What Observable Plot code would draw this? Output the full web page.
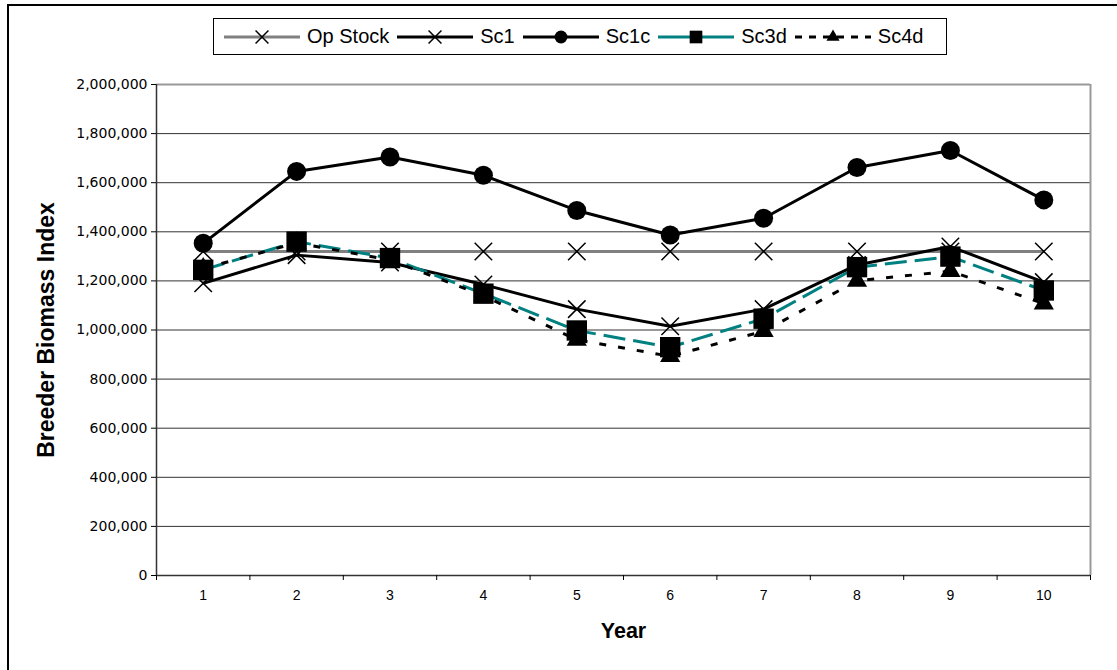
<!DOCTYPE html>
<html>
<head>
<meta charset="utf-8">
<script src="https://cdn.jsdelivr.net/npm/d3@7"></script>
<script src="https://cdn.jsdelivr.net/npm/@observablehq/plot@0.6"></script>
<style>
  html, body { margin: 0; padding: 0; background: #fff; }
  #chart { position: relative; width: 1117px; height: 670px; overflow: hidden;
           font-family: "Liberation Sans", Arial, sans-serif; color: #000; }
  #frame { position: absolute; left: 7px; top: 4px; width: 1300px; height: 900px;
           border: 2px solid #000; pointer-events: none; }
  #legend { margin: 18px 0 5px 213px; width: 734px; height: 37px; box-sizing: border-box;
            border: 1px solid #000; display: flex; align-items: center; padding-left: 10px;
            font-size: 20px; white-space: nowrap; }
  #legend .item { display: flex; align-items: center; }
  #legend .item span { margin: 0 8px 0 7px; }
  #plot svg { display: block; }
  #plot g[aria-label="y-axis tick label"] { font-family: "DejaVu Sans", sans-serif; font-size: 14px; }
  #plot g[aria-label="x-axis tick label"] { font-size: 14px; }
  #plot g[aria-label="y-axis label"] { font-size: 23px; font-weight: bold; }
  #plot g[aria-label="x-axis label"] { font-size: 21.5px; font-weight: bold; }
</style>
</head>
<body>
<div id="chart">
  <div id="legend"></div>
  <div id="plot"></div>
  <div id="frame"></div>
</div>
<script>
// Breeder biomass index by year for each scenario
const years   = [1, 2, 3, 4, 5, 6, 7, 8, 9, 10];
const opStock = [1320000, 1320000, 1320000, 1320000, 1320000, 1320000, 1320000, 1320000, 1320000, 1320000];
const sc1     = [1190000, 1305000, 1275000, 1185000, 1085000, 1015000, 1085000, 1265000, 1340000, 1195000];
const sc1c    = [1353000, 1646000, 1705000, 1630000, 1487000, 1387000, 1455000, 1662000, 1731000, 1530000];
const sc3d    = [1245000, 1360000, 1293000, 1148000, 998000, 930000, 1046000, 1256000, 1299000, 1161000];
const sc4d    = [1250000, 1355000, 1285000, 1140000, 960000, 893000, 995000, 1200000, 1240000, 1107000];

const seriesNames = ["Op Stock", "Sc1", "Sc1c", "Sc3d", "Sc4d"];
const yTicks = [0, 200000, 400000, 600000, 800000, 1000000, 1200000, 1400000, 1600000, 1800000, 2000000];

// Line and marker styling per series
const styles = {
  "Op Stock": {values: opStock, stroke: "#808080", dash: null,   symbol: "times",    r: 8,    legendArea: 110},
  "Sc1":      {values: sc1,     stroke: "#000000", dash: null,   symbol: "times",    r: 8,    legendArea: 110},
  "Sc1c":     {values: sc1c,    stroke: "#000000", dash: null,   symbol: "circle",   r: 9.5,  legendArea: 130},
  "Sc3d":     {values: sc3d,    stroke: "#008080", dash: "22,8", symbol: "square",   r: 11.5, legendArea: 160},
  "Sc4d":     {values: sc4d,    stroke: "#000000", dash: "7,12", symbol: "triangle", r: 7.5,  legendArea: 75}
};

const rows = seriesNames.flatMap(name =>
  years.map((year, i) => ({series: name, year, value: styles[name].values[i]}))
);

const yMax = yTicks[yTicks.length - 1];
const bandEdges = d3.range(years[0] - 0.5, years[years.length - 1] + 1, 1);

const lineMarks = seriesNames.map(name => Plot.line(rows.filter(d => d.series === name), {
  x: "year", y: "value",
  stroke: styles[name].stroke, strokeWidth: 3,
  strokeDasharray: styles[name].dash ?? undefined,
  strokeLinecap: "butt", strokeLinejoin: "round"
}));

const markerMarks = seriesNames.map(name => {
  const s = styles[name];
  const data = rows.filter(d => d.series === name);
  return s.symbol === "times"
    ? Plot.dot(data, {x: "year", y: "value", symbol: "times", r: s.r, stroke: "#000", strokeWidth: 1.5})
    : Plot.dot(data, {x: "year", y: "value", symbol: s.symbol, r: s.r, fill: "#000", stroke: "none"});
});

const plot = Plot.plot({
  width: 1117,
  height: 610,
  marginLeft: 156,
  marginRight: 27,
  marginTop: 24,
  marginBottom: 95,
  style: {fontFamily: '"Liberation Sans", Arial, sans-serif', fontSize: "13px", color: "#000", background: "transparent"},
  x: {type: "linear", domain: [bandEdges[0], bandEdges[bandEdges.length - 1]]},
  y: {domain: [0, yMax]},
  marks: [
    Plot.gridY(yTicks.filter(v => v > 0 && v < yMax), {stroke: "#333", strokeOpacity: 1, strokeWidth: 1}),
    Plot.ruleY([yMax], {stroke: "#999", strokeWidth: 2}),
    Plot.ruleX([bandEdges[bandEdges.length - 1]], {stroke: "#999", strokeWidth: 2}),
    Plot.ruleX([bandEdges[0]], {stroke: "#333", strokeWidth: 1.5}),
    Plot.ruleY([0], {stroke: "#333", strokeWidth: 1.5}),
    Plot.axisY({ticks: yTicks, tickSize: 5, tickPadding: 4, tickFormat: d3.format(","),
                label: "Breeder Biomass Index", labelArrow: "none", labelAnchor: "center", labelOffset: 119}),
    Plot.axisX({ticks: bandEdges, tickSize: 5, tickFormat: () => "", label: null}),
    Plot.axisX({ticks: years, tickSize: 0, tickPadding: 15, tickFormat: d => String(d),
                label: "Year", labelArrow: "none", labelAnchor: "center", labelOffset: 62}),
    ...lineMarks,
    ...markerMarks
  ]
});
document.getElementById("plot").append(plot);

// Legend: a line sample with its marker, followed by the series name
const legend = d3.select("#legend");
for (const name of seriesNames) {
  const s = styles[name];
  const item = legend.append("div").attr("class", "item");
  const svg = item.append("svg").attr("width", 76).attr("height", 24);
  svg.append("line")
    .attr("x1", 0).attr("x2", 76).attr("y1", 12).attr("y2", 12)
    .attr("stroke", s.stroke).attr("stroke-width", 3)
    .attr("stroke-dasharray", s.dash === "7,12" ? "7,7" : null);
  const sym = {times: d3.symbolTimes, circle: d3.symbolCircle, square: d3.symbolSquare, triangle: d3.symbolTriangle}[s.symbol];
  const path = svg.append("path")
    .attr("transform", "translate(38,12)")
    .attr("d", d3.symbol(sym, s.legendArea)());
  if (s.symbol === "times") path.attr("fill", "none").attr("stroke", "#000").attr("stroke-width", 1.5);
  else path.attr("fill", "#000");
  item.append("span").text(name);
}
</script>
</body>
</html>
